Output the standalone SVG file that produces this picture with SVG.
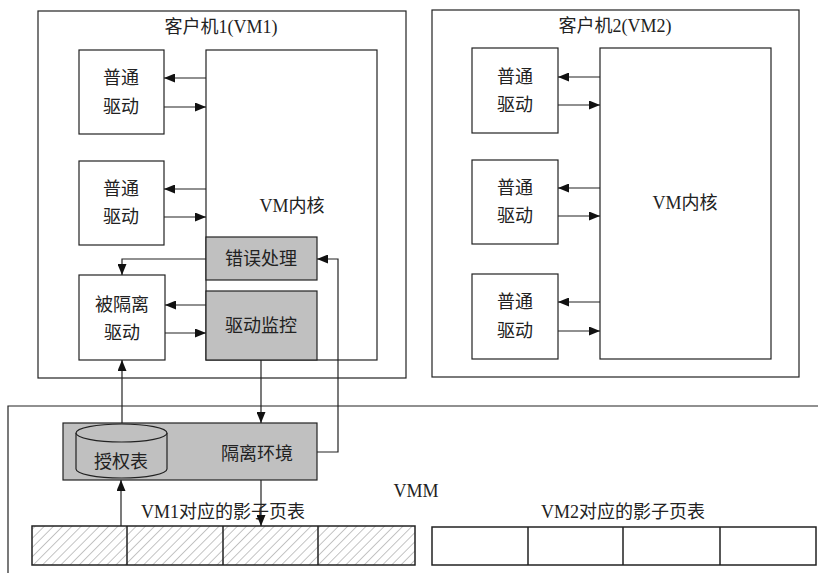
<svg xmlns="http://www.w3.org/2000/svg" width="818" height="573" viewBox="0 0 818 573">
<style>
.box{fill:#fff;stroke:#222;stroke-width:1.2}
.grey{fill:#c0c0c0;stroke:#222;stroke-width:1.2}
.t{font-family:"Liberation Serif","Noto Sans CJK SC",serif;font-size:18px;fill:#222;text-anchor:middle}
.c{fill:none;stroke:#222;stroke-width:1.2}
.pt{fill:none;stroke:#222;stroke-width:1.5}
</style>
<defs>
<marker id="ah" viewBox="0 0 11 9" refX="11" refY="4.5" markerWidth="11" markerHeight="9" markerUnits="userSpaceOnUse" orient="auto">
<path d="M0,0 L11,4.5 L0,9 z" fill="#111"/>
</marker>
<pattern id="hatch" patternUnits="userSpaceOnUse" width="6.5" height="6.5" patternTransform="rotate(45)">
<line x1="0" y1="0" x2="0" y2="6.5" stroke="#888" stroke-width="1"/>
</pattern>
</defs>
<rect width="818" height="573" fill="#fff"/>

<g id="vmm">
<path class="c" d="M8,573 L8,406 L818,406"/>
<text class="t" x="416" y="497">VMM</text>
</g>

<g id="vm1">
<rect class="box" x="38" y="11" width="368" height="367"/>
<text class="t" x="221" y="33">客户机1(VM1)</text>
</g>
<g id="vm1-kernel">
<rect class="box" x="206" y="50" width="171" height="310"/>
<text class="t" x="292" y="212">VM内核</text>
</g>
<g id="vm1-driver1">
<rect class="box" x="79" y="50" width="85" height="84"/>
<text class="t" x="121" y="84">普通</text>
<text class="t" x="121" y="113">驱动</text>
</g>
<g id="vm1-driver2">
<rect class="box" x="79" y="161" width="85" height="84"/>
<text class="t" x="121" y="195">普通</text>
<text class="t" x="121" y="223">驱动</text>
</g>
<g id="vm1-isolated">
<rect class="box" x="79" y="275" width="86" height="85"/>
<text class="t" x="122" y="311">被隔离</text>
<text class="t" x="122" y="339">驱动</text>
</g>
<g id="error">
<rect class="grey" x="206" y="237" width="111" height="43"/>
<text class="t" x="261" y="265">错误处理</text>
</g>
<g id="monitor">
<rect class="grey" x="206" y="291" width="111" height="69"/>
<text class="t" x="261" y="332">驱动监控</text>
</g>

<g id="vm2">
<rect class="box" x="432" y="10" width="367" height="367"/>
<text class="t" x="615" y="32">客户机2(VM2)</text>
</g>
<g id="vm2-kernel">
<rect class="box" x="600" y="48" width="171" height="311"/>
<text class="t" x="685" y="209">VM内核</text>
</g>
<g id="vm2-driver1">
<rect class="box" x="472" y="48" width="86" height="85"/>
<text class="t" x="515" y="83">普通</text>
<text class="t" x="515" y="111">驱动</text>
</g>
<g id="vm2-driver2">
<rect class="box" x="472" y="160" width="86" height="84"/>
<text class="t" x="515" y="194">普通</text>
<text class="t" x="515" y="222">驱动</text>
</g>
<g id="vm2-driver3">
<rect class="box" x="472" y="274" width="86" height="85"/>
<text class="t" x="515" y="308">普通</text>
<text class="t" x="515" y="337">驱动</text>
</g>

<g id="isolation">
<rect class="grey" x="63" y="423" width="254" height="57"/>
<text class="t" x="257" y="460">隔离环境</text>
</g>
<g id="auth-table">
<path class="grey" d="M76,433 L76,469 A45.5,9 0 0 0 167,469 L167,433"/>
<ellipse class="grey" cx="121.5" cy="433" rx="45.5" ry="9"/>
<text class="t" x="121" y="468">授权表</text>
</g>

<g id="vm1-pagetable">
<text class="t" x="223" y="518">VM1对应的影子页表</text>
<rect x="32" y="526" width="383" height="39" fill="url(#hatch)"/>
<rect class="pt" x="32" y="526" width="383" height="39"/>
<path class="pt" d="M127,526 V565 M223,526 V565 M318,526 V565"/>
</g>
<g id="vm2-pagetable">
<text class="t" x="623" y="518">VM2对应的影子页表</text>
<rect class="pt" x="432" y="527" width="384" height="38" fill="#fff"/>
<path class="pt" d="M528,527 V565 M623,527 V565 M720,527 V565"/>
</g>

<g id="connectors">
<line class="c" x1="206" y1="78" x2="164" y2="78" marker-end="url(#ah)"/>
<line class="c" x1="164" y1="107" x2="206" y2="107" marker-end="url(#ah)"/>
<line class="c" x1="206" y1="189" x2="164" y2="189" marker-end="url(#ah)"/>
<line class="c" x1="164" y1="217" x2="206" y2="217" marker-end="url(#ah)"/>
<line class="c" x1="206" y1="305" x2="165" y2="305" marker-end="url(#ah)"/>
<line class="c" x1="165" y1="333" x2="206" y2="333" marker-end="url(#ah)"/>
<path class="c" d="M206,259 H122 V275" marker-end="url(#ah)"/>
<line class="c" x1="261" y1="360" x2="261" y2="423" marker-end="url(#ah)"/>
<path class="c" d="M317,452 H338 V259 H317" marker-end="url(#ah)"/>
<line class="c" x1="122" y1="423" x2="122" y2="360" marker-end="url(#ah)"/>
<line class="c" x1="261" y1="480" x2="261" y2="526" marker-end="url(#ah)"/>
<line class="c" x1="121" y1="526" x2="121" y2="480" marker-end="url(#ah)"/>
<line class="c" x1="600" y1="77" x2="558" y2="77" marker-end="url(#ah)"/>
<line class="c" x1="558" y1="105" x2="600" y2="105" marker-end="url(#ah)"/>
<line class="c" x1="600" y1="188" x2="558" y2="188" marker-end="url(#ah)"/>
<line class="c" x1="558" y1="216" x2="600" y2="216" marker-end="url(#ah)"/>
<line class="c" x1="600" y1="302" x2="558" y2="302" marker-end="url(#ah)"/>
<line class="c" x1="558" y1="331" x2="600" y2="331" marker-end="url(#ah)"/>
</g>
</svg>
